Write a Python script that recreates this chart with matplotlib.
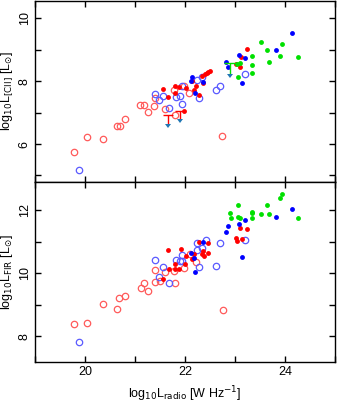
import numpy as np
import matplotlib
matplotlib.use("Agg")
import matplotlib.pyplot as plt

plt.rcParams['font.family'] = ['Liberation Sans', 'DejaVu Sans']
plt.rcParams['mathtext.fontset'] = 'dejavusans'

# ---- top panel: L[CII] vs L_radio ----
cii_red_open_x = [19.77, 20.03, 20.36, 20.64, 20.69, 20.80, 21.10, 21.17, 21.26, 21.38,
                  21.40, 21.60, 21.78, 21.80, 21.97, 22.08, 22.74]
cii_red_open_y = [5.73, 6.21, 6.17, 6.56, 6.56, 6.81, 7.23, 7.23, 7.01, 7.22,
                  7.45, 7.10, 7.72, 6.93, 7.85, 7.63, 6.24]
cii_blue_open_x = [19.87, 21.40, 21.47, 21.56, 21.68, 21.82, 21.90, 21.93, 21.93, 22.23,
                   22.28, 22.33, 22.61, 22.70, 23.20]
cii_blue_open_y = [5.17, 7.59, 7.40, 7.52, 7.13, 7.48, 7.52, 7.28, 7.85, 8.04,
                   7.45, 8.12, 7.73, 7.83, 8.24]
cii_red_x = [21.56, 21.66, 21.80, 21.80, 21.88, 22.01, 21.98, 22.13, 22.18, 22.21,
             22.27, 22.34, 22.36, 22.40, 22.43, 22.46, 22.49, 23.01, 23.10, 23.13, 23.24]
cii_red_y = [7.75, 7.51, 7.83, 7.62, 7.81, 7.78, 7.06, 8.01, 7.72, 7.85,
             7.57, 8.17, 7.93, 8.24, 8.27, 8.29, 8.31, 8.56, 8.45, 8.78, 9.03]
cii_blue_x = [22.13, 22.11, 22.19, 22.35, 22.81, 22.86, 23.08, 23.20, 23.15, 23.82, 24.14]
cii_blue_y = [8.12, 8.00, 7.61, 7.97, 8.61, 8.46, 8.83, 8.73, 7.95, 8.99, 9.52]
cii_green_x = [23.05, 23.10, 23.07, 23.35, 23.35, 23.35, 23.52, 23.64, 23.69, 23.90, 23.94, 24.26]
cii_green_y = [8.56, 8.57, 8.14, 8.80, 8.50, 8.27, 9.23, 8.98, 8.62, 8.81, 9.18, 8.77]

# upper limits
lim_red_x = [21.66, 21.90]
lim_red_y = [6.93, 7.06]
lim_green_x = [22.90]
lim_green_y = [8.59]

# ---- bottom panel: L_FIR vs L_radio ----
fir_red_open_x = [19.77, 20.03, 20.36, 20.64, 20.68, 20.80, 21.11, 21.17, 21.26, 21.39,
                  21.39, 21.49, 21.60, 21.78, 21.80, 21.98, 22.09, 22.21, 22.75]
fir_red_open_y = [8.39, 8.42, 9.04, 8.87, 9.22, 9.29, 9.53, 9.70, 9.43, 10.11,
                  9.73, 9.75, 10.03, 10.08, 9.68, 10.16, 10.61, 10.37, 8.84]
fir_blue_open_x = [19.87, 21.40, 21.47, 21.56, 21.67, 21.82, 21.90, 21.93, 21.93, 22.23,
                   22.23, 22.28, 22.33, 22.41, 22.62, 22.70, 23.21]
fir_blue_open_y = [7.83, 10.42, 9.89, 10.21, 9.68, 10.42, 10.39, 10.58, 10.38, 10.74,
                   10.95, 10.19, 10.79, 11.05, 10.23, 10.95, 11.04]
fir_red_x = [21.66, 21.56, 21.67, 21.80, 21.80, 21.88, 21.92, 21.99, 22.01, 22.14,
             22.17, 22.27, 22.35, 22.37, 22.45, 22.46, 22.33, 23.02, 23.05, 23.10,
             23.15, 23.25]
fir_red_y = [10.74, 9.82, 10.14, 10.29, 10.12, 10.13, 10.76, 10.29, 10.55, 10.44,
             10.61, 11.00, 10.71, 10.55, 10.63, 10.97, 10.61, 11.13, 11.02, 11.42,
             11.10, 11.41]
fir_blue_x = [22.11, 22.19, 22.17, 22.35, 22.81, 22.86, 23.08, 23.20, 23.15, 23.83, 24.14]
fir_blue_y = [10.63, 10.03, 10.48, 11.00, 11.32, 11.50, 11.55, 11.68, 10.53, 11.79, 12.03]
fir_green_x = [22.90, 22.91, 23.07, 23.07, 23.11, 23.34, 23.35, 23.35, 23.52, 23.64,
               23.69, 23.90, 23.94, 24.26]
fir_green_y = [11.92, 11.74, 12.16, 11.79, 11.76, 11.95, 11.90, 11.74, 11.87, 12.16,
               11.89, 12.37, 12.50, 11.74]

red = '#ff0000'
blue = '#0000ff'
green = '#00e000'
red_open = '#ff5a5a'
blue_open = '#5a5aff'

fig = plt.figure(figsize=(3.38, 4.04), dpi=100)
ax1 = fig.add_axes([0.1036, 0.5502, 0.8875, 0.4473])
ax2 = fig.add_axes([0.1036, 0.1047, 0.8875, 0.4455])


def draw(ax, rox, roy, box, boy, rx, ry, bx, by, gx, gy):
    ax.plot(rox, roy, 'o', mfc='none', mec=red_open, ms=4.6, mew=0.9)
    ax.plot(box, boy, 'o', mfc='none', mec=blue_open, ms=4.6, mew=0.9)
    ax.plot(rx, ry, 'o', color=red, ms=3.5, mew=0)
    ax.plot(bx, by, 'o', color=blue, ms=3.5, mew=0)
    ax.plot(gx, gy, 'o', color=green, ms=3.5, mew=0)


def limits(ax, x, y, dx, dy, col):
    eb = ax.errorbar(x, y, xerr=dx, yerr=dy, uplims=True, fmt='none',
                     ecolor=col, elinewidth=1, capsize=0)
    for cl in eb[1]:
        cl.set_markersize(4)
        cl.set_markeredgewidth(0)


draw(ax1, cii_red_open_x, cii_red_open_y, cii_blue_open_x, cii_blue_open_y,
     cii_red_x, cii_red_y, cii_blue_x, cii_blue_y, cii_green_x, cii_green_y)
limits(ax1, lim_red_x, lim_red_y, 0.1, 0.28, red)
limits(ax1, lim_green_x, lim_green_y, 0.12, 0.35, green)

draw(ax2, fir_red_open_x, fir_red_open_y, fir_blue_open_x, fir_blue_open_y,
     fir_red_x, fir_red_y, fir_blue_x, fir_blue_y, fir_green_x, fir_green_y)

ax1.set_xlim(19, 25)
ax2.set_xlim(19, 25)
ax1.set_ylim(4.8, 10.55)
ax2.set_ylim(7.2, 12.9)

for ax in (ax1, ax2):
    ax.set_xticks(np.arange(19, 26, 1))
    ax.tick_params(direction='in', top=True, right=True, length=4, width=1,
                   labelsize=9, pad=3)
    for s in ax.spines.values():
        s.set_linewidth(1)
    ax.set_xticklabels(['' if v % 2 else str(v) for v in range(19, 26)])

ax1.set_xticklabels([])
ax1.set_yticks(np.arange(5, 11, 1))
ax1.set_yticklabels(['' if v % 2 else str(v) for v in range(5, 11)],
                    rotation=90, va='center')
ax2.set_yticks(np.arange(8, 13, 1))
ax2.set_yticklabels(['' if v % 2 else str(v) for v in range(8, 13)],
                    rotation=90, va='center')

ax1.set_ylabel(r'log$_{10}$L$_{[\mathrm{CII}]}$ [L$_{\odot}$]', fontsize=9, labelpad=3)
ax2.set_ylabel(r'log$_{10}$L$_{\mathrm{FIR}}$ [L$_{\odot}$]', fontsize=9, labelpad=3)
ax2.set_xlabel(r'log$_{10}$L$_{\mathrm{radio}}$ [W Hz$^{-1}$]', fontsize=9, labelpad=5)

fig.savefig('out.png', dpi=100)
